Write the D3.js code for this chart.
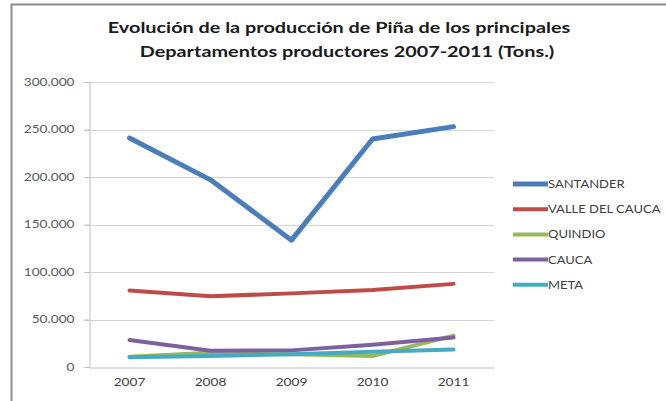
<!DOCTYPE html>
<html>
<head>
<meta charset="utf-8">
<script src="https://cdn.jsdelivr.net/npm/d3@7"></script>
<style>
  html, body { margin: 0; padding: 0; background: #fff; }
  svg { display: block; }
</style>
</head>
<body>
<svg id="chart" width="666" height="401"></svg>
<script>
// Producción de piña por departamento (toneladas)
const years = ["2007", "2008", "2009", "2010", "2011"];
const departments = ["SANTANDER", "VALLE DEL CAUCA", "QUINDIO", "CAUCA", "META"];
const santander = [241000, 197000, 133500, 240000, 253000];
const valle = [80500, 74500, 77500, 81000, 87500];
const quindio = [10800, 15000, 13500, 11500, 33000];
const cauca = [28500, 17000, 17500, 23500, 31000];
const meta = [10200, 11500, 13500, 16000, 18500];
const yTicks = [0, 50000, 100000, 150000, 200000, 250000, 300000];
const titleLines = [
  "Evolución de la producción de Piña de los principales",
  "Departamentos productores 2007-2011 (Tons.)"
];

const seriesValues = [santander, valle, quindio, cauca, meta];
const colors = ["#4a7ebb", "#be4b48", "#98b954", "#7d60a0", "#46aac5"];
const widths = [5, 4, 4, 4, 4];
const FONT = "Lato, 'Open Sans', sans-serif";

// widen rendered axis text horizontally by a factor
function widen(sel, factor) {
  sel.each(function () {
    const w = this.getComputedTextLength();
    d3.select(this)
      .attr("textLength", w * factor)
      .attr("lengthAdjust", "spacingAndGlyphs");
  });
}

const svg = d3.select("#chart");
const plot = { left: 89, right: 494, top: 82, bottom: 367 };

// chart frame (open to the right)
svg.append("rect")
  .attr("x", 11.5).attr("y", 4.5)
  .attr("width", 700).attr("height", 420)
  .attr("fill", "#fff").attr("stroke", "#8c8c8c").attr("stroke-width", 2);

// title, stretched horizontally
svg.append("g").selectAll("g")
  .data(titleLines)
  .join("g")
  .attr("transform", (d, i) => `translate(${339 + i * 8},${33 + i * 24}) scale(1.28,1)`)
  .append("text")
  .attr("text-anchor", "middle")
  .attr("font-family", FONT)
  .attr("font-weight", "bold")
  .attr("font-size", 15.5)
  .attr("fill", "#1a1a1a")
  .text(d => d);

const x = d3.scaleBand().domain(years).range([plot.left, plot.right]);
const y = d3.scaleLinear().domain([0, 300000]).range([plot.bottom, plot.top]);

const locale = d3.formatLocale({ decimal: ",", thousands: ".", grouping: [3], currency: ["$", ""] });
const fmt = locale.format(",d");

// horizontal gridlines
svg.append("g")
  .selectAll("line")
  .data(yTicks.filter(t => t > 0))
  .join("line")
  .attr("x1", plot.left - 5).attr("x2", plot.right)
  .attr("y1", d => Math.round(y(d)) + 0.5).attr("y2", d => Math.round(y(d)) + 0.5)
  .attr("stroke", "#d4d4d4").attr("stroke-width", 1);

// y axis
const yAxis = svg.append("g")
  .attr("transform", `translate(${plot.left + 0.5},0)`)
  .call(d3.axisLeft(y).tickValues(yTicks).tickFormat(fmt).tickSize(5).tickPadding(10));
yAxis.select(".domain").attr("stroke", "#bfbfbf");
yAxis.selectAll(".tick line").attr("stroke", "#bfbfbf");
yAxis.selectAll("text")
  .attr("font-family", FONT)
  .attr("font-size", 10.5)
  .attr("fill", "#595959")
  .call(widen, 1.3);

// x axis
const xAxis = svg.append("g")
  .attr("transform", `translate(0,${plot.bottom + 0.5})`)
  .call(d3.axisBottom(x).tickSize(0).tickPadding(11));
xAxis.select(".domain").attr("stroke", "#bfbfbf");
xAxis.selectAll("text")
  .attr("font-family", FONT)
  .attr("font-size", 10.5)
  .attr("fill", "#404040")
  .call(widen, 1.3);

// series lines
const line = d3.line()
  .x((d, i) => x(years[i]) + x.bandwidth() / 2)
  .y(d => y(d));

svg.append("g")
  .selectAll("path")
  .data(seriesValues)
  .join("path")
  .attr("d", d => line(d))
  .attr("fill", "none")
  .attr("stroke", (d, i) => colors[i])
  .attr("stroke-width", (d, i) => widths[i])
  .attr("stroke-linejoin", "round")
  .attr("stroke-linecap", "round");

// legend
const legend = svg.append("g")
  .selectAll("g")
  .data(departments)
  .join("g")
  .attr("transform", (d, i) => `translate(513,${184 + i * 25.2})`);
legend.append("line")
  .attr("x1", 0).attr("x2", 35)
  .attr("stroke", (d, i) => colors[i])
  .attr("stroke-width", (d, i) => widths[i]);
legend.append("g")
  .attr("transform", "translate(35,4) scale(1.24,1)")
  .append("text")
  .attr("font-family", FONT)
  .attr("font-size", 10.5)
  .attr("fill", "#404040")
  .text(d => d);
</script>
</body>
</html>
